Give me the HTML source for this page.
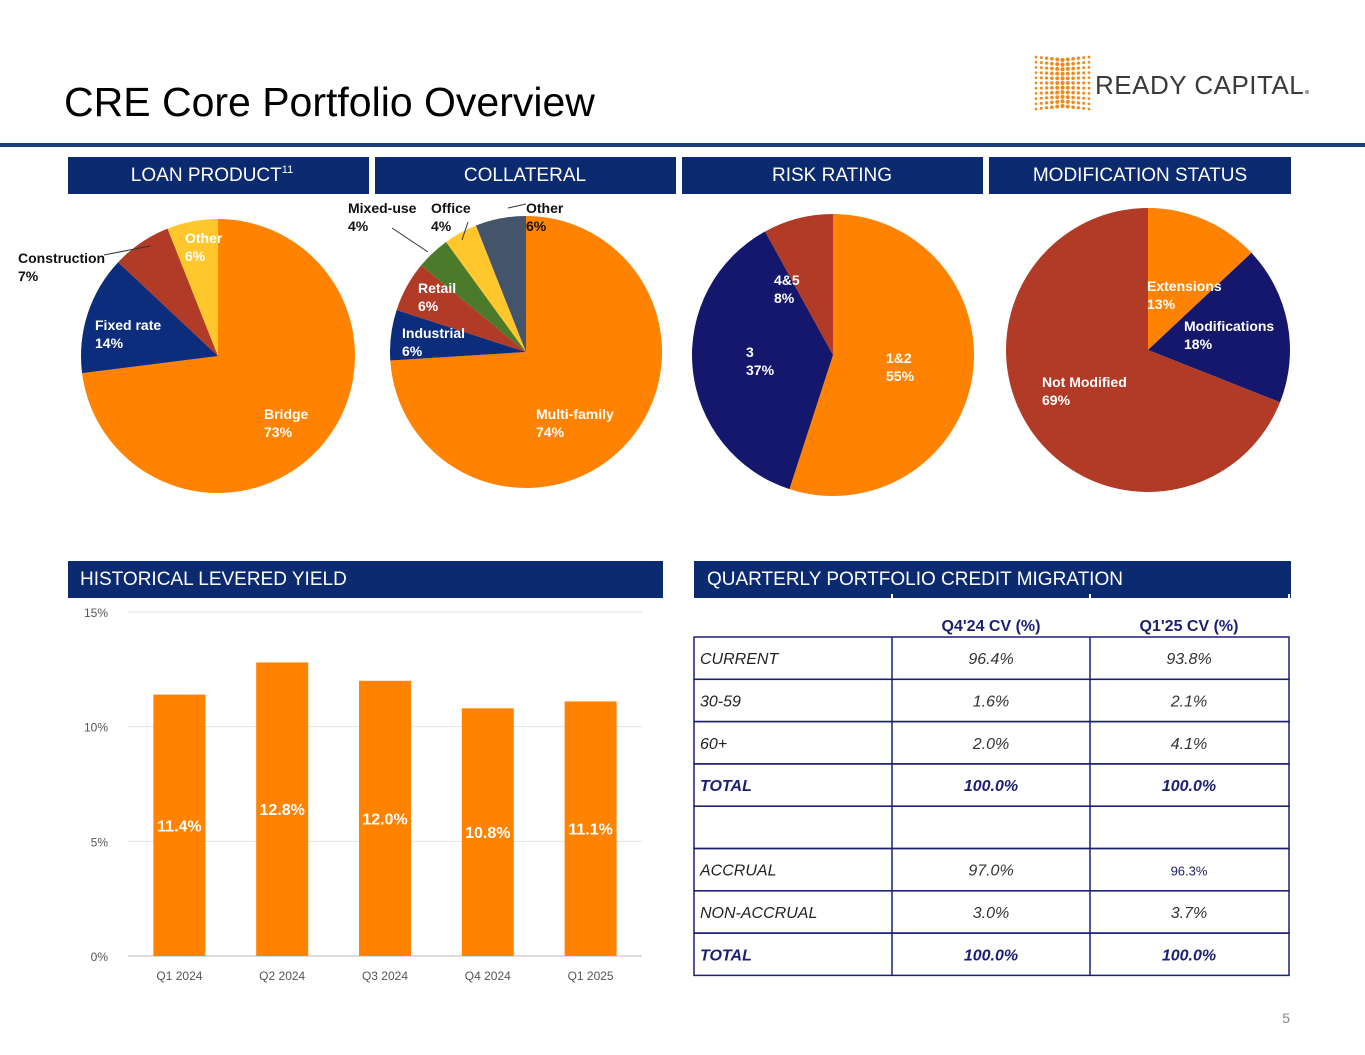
<!DOCTYPE html>
<html><head><meta charset="utf-8"><style>
body{margin:0;background:#fff;font-family:"Liberation Sans",Arial,sans-serif}
svg{display:block}
</style></head><body>
<svg id="s" width="1365" height="1055" viewBox="0 0 1365 1055" xmlns="http://www.w3.org/2000/svg" font-family="Liberation Sans, Arial, sans-serif">
<text x="64" y="116" font-size="41" fill="#000">CRE Core Portfolio Overview</text>
<g>
<g id="dots"></g>
<text x="1095" y="94" font-size="26" fill="#3a3a3a" letter-spacing="0.5">READY CAPITAL</text>
<circle cx="1307" cy="92" r="2" fill="#999"/>
</g>
<rect x="0" y="143" width="1365" height="4" fill="#1c3c7a"/>
<g font-size="19" fill="#fff" text-anchor="middle">
<rect x="68" y="157" width="301" height="37" fill="#0b2a70"/>
<text x="212" y="181">LOAN PRODUCT<tspan font-size="11" dy="-8">11</tspan></text>
<rect x="375" y="157" width="301" height="37" fill="#0b2a70"/>
<text x="525" y="181">COLLATERAL</text>
<rect x="682" y="157" width="301" height="37" fill="#0b2a70"/>
<text x="832" y="181">RISK RATING</text>
<rect x="989" y="157" width="302" height="37" fill="#0b2a70"/>
<text x="1140" y="181">MODIFICATION STATUS</text>
</g>
<g font-size="19" fill="#fff">
<rect x="68" y="561" width="595" height="37" fill="#0b2a70"/>
<text x="80" y="585">HISTORICAL LEVERED YIELD</text>
<rect x="694" y="561" width="597" height="37" fill="#0b2a70"/>
<text x="707" y="585">QUARTERLY PORTFOLIO CREDIT MIGRATION</text>
</g>
<g id="pies"></g>
<g id="bars"></g>
<g id="table"></g>
<text x="1290" y="1023" font-size="14" fill="#888" text-anchor="end">5</text>
</svg>
<script>
const NS="http://www.w3.org/2000/svg";
function mk(tag,attrs,parent,txt){const e=document.createElementNS(NS,tag);for(const k in attrs)e.setAttribute(k,attrs[k]);if(txt!==undefined)e.textContent=txt;parent.appendChild(e);return e;}
const dg=document.getElementById('dots');
for(let c=0;c<11;c++)for(let r=0;r<11;r++){const cx=1036+c*5.3,cy=60+r*4.6+Math.abs(c-5)*0.6*(r-5)/5;const rr=1.2+0.9*(1-Math.abs(c-5)/6);mk('circle',{cx:cx,cy:cy,r:rr,fill:'#f08a1c'},dg);}

const loanLabels=["Bridge","Fixed rate","Construction","Other"];
const loanValues=[73,14,7,6];
const collLabels=["Multi-family","Industrial","Retail","Mixed-use","Office","Other"];
const collValues=[74,6,6,4,4,6];
const riskLabels=["1&2","3","4&5"];
const riskValues=[55,37,8];
const modLabels=["Extensions","Modifications","Not Modified"];
const modValues=[13,18,69];

const pies=document.getElementById('pies');
function pie(cx,cy,r,vals,cols,name){
  const g=mk('g',{},pies);
  
  
  const tot=vals.reduce((a,b)=>a+b,0);let a0=0;
  vals.forEach((v,i)=>{const a1=a0+v/tot*2*Math.PI;
    const x0=cx+r*Math.sin(a0),y0=cy-r*Math.cos(a0),x1=cx+r*Math.sin(a1),y1=cy-r*Math.cos(a1);
    const p=mk('path',{d:`M${cx},${cy}L${x0},${y0}A${r},${r} 0 ${a1-a0>Math.PI?1:0} 1 ${x1},${y1}Z`,fill:cols[i]},g);
    
    
    a0=a1;});
}
const O="#ff8200",N="#0b2d7c",R="#b23b28",Y="#ffc72c",G="#4a7a2a",S="#44546a",D="#14176b";
pie(218,356,137,loanValues,[O,N,R,Y],'loan-product-pie');
pie(526,352,136,collValues,[O,N,R,G,Y,S],'collateral-pie');
pie(833,355,141,riskValues,[O,D,R],'risk-rating-pie');
pie(1148,350,142,modValues,[O,D,R],'modification-pie');

function lbl(x,y,l1,l2,col,name){const t=mk('text',{x:x,y:y,'font-size':14,'font-weight':'bold',fill:col},pies);
  
  mk('tspan',{x:x,dy:0},t,l1);mk('tspan',{x:x,dy:18},t,l2);}
const W="#fff",K="#111";
lbl(264,419,loanLabels[0],loanValues[0]+"%",W,'label-bridge');
lbl(95,330,loanLabels[1],loanValues[1]+"%",W,'label-fixed-rate');
lbl(18,263,loanLabels[2],loanValues[2]+"%",K,'label-construction');
lbl(185,243,loanLabels[3],loanValues[3]+"%",W,'label-loan-other');
mk('line',{x1:104,y1:255,x2:150,y2:246,stroke:'#333','stroke-width':1},pies);
lbl(536,419,collLabels[0],collValues[0]+"%",W,'label-multifamily');
lbl(402,338,collLabels[1],collValues[1]+"%",W,'label-industrial');
lbl(418,293,collLabels[2],collValues[2]+"%",W,'label-retail');
lbl(348,213,collLabels[3],collValues[3]+"%",K,'label-mixed-use');
lbl(431,213,collLabels[4],collValues[4]+"%",K,'label-office');
lbl(526,213,collLabels[5],collValues[5]+"%",K,'label-coll-other');
mk('line',{x1:392,y1:228,x2:428,y2:252,stroke:'#333','stroke-width':1},pies);
mk('line',{x1:468,y1:222,x2:462,y2:240,stroke:'#333','stroke-width':1},pies);
mk('line',{x1:526,y1:204,x2:508,y2:208,stroke:'#333','stroke-width':1},pies);
lbl(886,363,riskLabels[0],riskValues[0]+"%",W,'label-risk-1-2');
lbl(746,357,riskLabels[1],riskValues[1]+"%",W,'label-risk-3');
lbl(774,285,riskLabels[2],riskValues[2]+"%",W,'label-risk-4-5');
lbl(1147,291,modLabels[0],modValues[0]+"%",W,'label-extensions');
lbl(1184,331,modLabels[1],modValues[1]+"%",W,'label-modifications');
lbl(1042,387,modLabels[2],modValues[2]+"%",W,'label-not-modified');

const quarters=["Q1 2024","Q2 2024","Q3 2024","Q4 2024","Q1 2025"];
const yields=[11.4,12.8,12.0,10.8,11.1];
const yTicks=[0,5,10,15];
const bars=document.getElementById('bars');
const x0=128,x1=642,yb=956,pxPer=(956-612)/15;
const yS=v=>yb-v*pxPer, bw=(x1-x0)/quarters.length, xS=i=>x0+bw*(i+0.5);
yTicks.forEach(t=>{const l=mk('line',{x1:x0,x2:x1,y1:yS(t),y2:yS(t),stroke:t===0?'#bbb':'#e2e2e2','stroke-width':1},bars);
  
  const tx=mk('text',{x:108,y:yS(t)+5,'font-size':12,fill:'#555','text-anchor':'end'},bars,t+'%');
  });
quarters.forEach((q,i)=>{const v=yields[i];
  const r=mk('rect',{x:xS(i)-26,y:yS(v),width:52,height:yb-yS(v),fill:O},bars);
  
  const t=mk('text',{x:xS(i),y:(yS(v)+yb)/2+6,'font-size':16,'font-weight':'bold',fill:'#fff','text-anchor':'middle'},bars,v.toFixed(1)+'%');
  
  const xl=mk('text',{x:xS(i),y:980,'font-size':12,fill:'#555','text-anchor':'middle'},bars,q);
  });

const rowLabels=["CURRENT","30-59","60+","TOTAL","","ACCRUAL","NON-ACCRUAL","TOTAL"];
const q4Values=["96.4%","1.6%","2.0%","100.0%","","97.0%","3.0%","100.0%"];
const q1Values=["93.8%","2.1%","4.1%","100.0%","","96.3%","3.7%","100.0%"];
const tb=document.getElementById('table');
const ry0=637, rh=42.3, TC="#1b1f72";
mk('text',{x:991,y:631,'font-size':16,'font-weight':'bold',fill:TC,'text-anchor':'middle'},tb,"Q4'24 CV (%)");
mk('text',{x:1189,y:631,'font-size':16,'font-weight':'bold',fill:TC,'text-anchor':'middle'},tb,"Q1'25 CV (%)");
[892,1090,1289].forEach(x=>mk('line',{x1:x,x2:x,y1:594,y2:600,stroke:'#fff','stroke-width':2},tb));
rowLabels.forEach((l,i)=>{const y=ry0+i*rh,b=(l==="TOTAL");
  const g=mk('g',{},tb);
  mk('rect',{x:694,y:y,width:595,height:rh,fill:'none',stroke:TC,'stroke-width':1.5},g);
  mk('line',{x1:892,x2:892,y1:y,y2:y+rh,stroke:TC,'stroke-width':1.5},g);
  mk('line',{x1:1090,x2:1090,y1:y,y2:y+rh,stroke:TC,'stroke-width':1.5},g);
  const ty=y+rh/2+6;
  mk('text',{x:700,y:ty,'font-size':16,'font-style':'italic','font-weight':b?'bold':'normal',fill:b?TC:'#222'},g,l);
  mk('text',{x:991,y:ty,'font-size':16,'font-style':'italic','font-weight':b?'bold':'normal',fill:b?TC:'#333','text-anchor':'middle'},g,q4Values[i]);
  mk('text',{x:1189,y:ty,'font-size':i===5?13:16,'font-style':i===5?'normal':'italic','font-weight':b?'bold':'normal',fill:b||i===5?TC:'#333','text-anchor':'middle'},g,q1Values[i]);});
</script>
</body></html>
